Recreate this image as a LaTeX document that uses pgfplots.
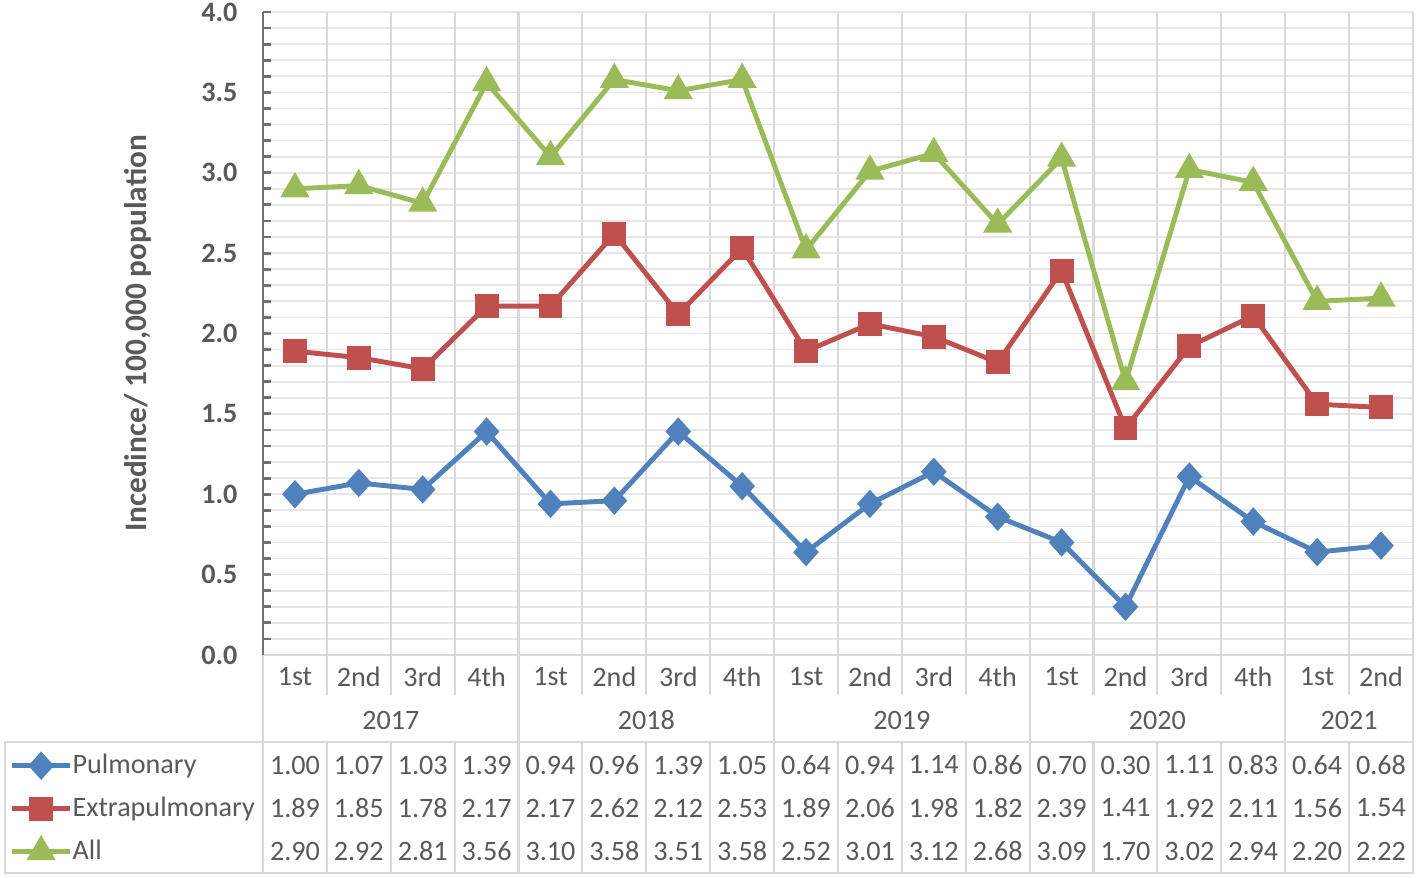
\documentclass[border=0pt]{standalone}
\usepackage{pgfplots}
\pgfplotsset{compat=1.18}
\usepackage{pgfplotstable}
\usepackage{fontspec}
\setmainfont{Carlito}

\definecolor{pulblue}{HTML}{4F81BD}
\definecolor{extred}{HTML}{C0504D}
\definecolor{allgreen}{HTML}{9BBB59}
\definecolor{txtgray}{HTML}{595959}
\definecolor{gridv}{HTML}{D9D9D9}
\definecolor{gridh}{HTML}{E6E6E6}
\definecolor{axgray}{HTML}{707070}

% quarterly incidence per 100,000
\pgfplotstableread{
x q   pul  ext  all
1  1st 1.00 1.89 2.90
2  2nd 1.07 1.85 2.92
3  3rd 1.03 1.78 2.81
4  4th 1.39 2.17 3.56
5  1st 0.94 2.17 3.10
6  2nd 0.96 2.62 3.58
7  3rd 1.39 2.12 3.51
8  4th 1.05 2.53 3.58
9  1st 0.64 1.89 2.52
10 2nd 0.94 2.06 3.01
11 3rd 1.14 1.98 3.12
12 4th 0.86 1.82 2.68
13 1st 0.70 2.39 3.09
14 2nd 0.30 1.41 1.70
15 3rd 1.11 1.92 3.02
16 4th 0.83 2.11 2.94
17 1st 0.64 1.56 2.20
18 2nd 0.68 1.54 2.22
}\incidence

\pgfplotsset{
  tablerow/.style={forget plot, draw=none, nodes near coords, point meta=explicit,
    every node near coord/.append style={anchor=center, yshift=#1, text=txtgray, inner sep=0pt},
    /pgf/number format/fixed, /pgf/number format/zerofill, /pgf/number format/precision=2},
}

\begin{document}
\fontsize{8}{9.6}\selectfont
\begin{tikzpicture}
\begin{axis}[
  name=ax,
  scale only axis,
  width=11.5cm, height=6.43cm,
  xmin=0.5, xmax=18.5, ymin=0, ymax=4,
  clip=false,
  axis x line*=bottom, axis y line*=left,
  x axis line style={draw=gridv, line width=0.6pt, -},
  y axis line style={draw=axgray, line width=0.8pt, -},
  /pgf/number format/assume math mode=true,
  xtick={1,...,18},
  xticklabels from table={\incidence}{q},
  xtick style={draw=none},
  x tick label style={anchor=center, yshift=-0.22cm, text=txtgray, inner sep=0pt},
  ytick={0,0.5,...,4},
  minor y tick num=4,
  major tick length=0.08cm, minor tick length=0.08cm,
  ytick style={draw=axgray, line width=0.8pt},
  minor tick style={draw=axgray, line width=0.8pt},
  y tick label style={font=\bfseries, text=txtgray, anchor=east, inner sep=0pt, xshift=-0.25cm,
    /pgf/number format/fixed, /pgf/number format/zerofill, /pgf/number format/precision=1},
  ymajorgrids, yminorgrids,
  major grid style={draw=gridh, line width=0.5pt},
  minor grid style={draw=gridh, line width=0.5pt},
  ylabel={Incedince/ 100,000 population},
  every axis y label/.style={at={(axis description cs:-0.1087,0.5)}, rotate=90, anchor=center,
    font=\fontsize{8.9}{10}\selectfont\bfseries, text=txtgray},
  legend cell align=left,
  legend image code/.code={\draw[mark repeat=2,mark phase=2]
    plot coordinates {(0cm,0cm) (0.29cm,0cm) (0.58cm,0cm)};},
  legend style={at={(0,0)}, anchor=north west, xshift=-2.54cm, yshift=-0.885cm,
    draw=none, fill=none, inner sep=0pt, row sep=0pt, column sep=0pt,
    nodes={inner sep=0pt, minimum height=0.43cm, text=txtgray}},
]
% category grid and data table frame
\pgfplotsinvokeforeach{1.5,2.5,3.5,5.5,6.5,7.5,9.5,10.5,11.5,13.5,14.5,15.5,17.5}{
  \draw[gridv, line width=0.6pt] (axis cs:#1,4) -- ([yshift=-0.40cm]axis cs:#1,0);
  \draw[gridv, line width=0.6pt] ([yshift=-0.87cm]axis cs:#1,0) -- ([yshift=-2.18cm]axis cs:#1,0);
}
\pgfplotsinvokeforeach{4.5,8.5,12.5,16.5,18.5}{
  \draw[gridv, line width=0.6pt] (axis cs:#1,4) -- ([yshift=-2.18cm]axis cs:#1,0);
}
\draw[gridv, line width=0.6pt] (axis cs:0.5,0) -- ([yshift=-2.18cm]axis cs:0.5,0);
\draw[gridv, line width=0.6pt] ([xshift=-2.58cm,yshift=-0.87cm]axis cs:0.5,0)
  rectangle ([yshift=-2.18cm]axis cs:18.5,0);

\node[text=txtgray] at ([yshift=-0.65cm]axis cs:2.5,0) {2017};
\node[text=txtgray] at ([yshift=-0.65cm]axis cs:6.5,0) {2018};
\node[text=txtgray] at ([yshift=-0.65cm]axis cs:10.5,0) {2019};
\node[text=txtgray] at ([yshift=-0.65cm]axis cs:14.5,0) {2020};
\node[text=txtgray] at ([yshift=-0.65cm]axis cs:17.5,0) {2021};

\addplot[color=pulblue, line width=1.4pt, mark=diamond*, mark size=3.0pt,
  mark options={xscale=1.2}] table[x=x, y=pul]{\incidence};
\addplot[color=extred, line width=1.4pt, mark=square*, mark size=2.7pt]
  table[x=x, y=ext]{\incidence};
\addplot[color=allgreen, line width=1.4pt, mark=triangle*, mark size=3.4pt]
  table[x=x, y=all]{\incidence};
\legend{Pulmonary, Extrapulmonary, All}

\addplot[tablerow=-1.10cm] table[x=x, y expr=0, meta=pul]{\incidence};
\addplot[tablerow=-1.53cm] table[x=x, y expr=0, meta=ext]{\incidence};
\addplot[tablerow=-1.96cm] table[x=x, y expr=0, meta=all]{\incidence};
\end{axis}
\path ([xshift=-2.63cm,yshift=-2.23cm]ax.south west) ([xshift=0.03cm,yshift=0.12cm]ax.north east);
\end{tikzpicture}
\end{document}
